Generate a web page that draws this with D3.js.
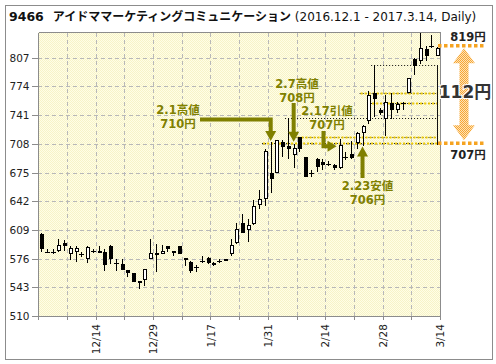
<!DOCTYPE html>
<html><head><meta charset="utf-8">
<script src="https://cdn.jsdelivr.net/npm/d3@7"></script>
<style>
body{margin:0;background:#fff}
svg{display:block}
text{font-family:"DejaVu Sans","Noto Sans CJK JP",sans-serif}
</style></head><body>
<svg id="c" width="496" height="364"></svg>
<script>
const dates=["12/1","12/2","12/5","12/6","12/7","12/8","12/9","12/12","12/13","12/14","12/15","12/16","12/19","12/20","12/21","12/22","12/26","12/27","12/28","12/29","12/30",
"1/4","1/5","1/6","1/10","1/11","1/12","1/13","1/16","1/17","1/18","1/19","1/20","1/23","1/24","1/25","1/26","1/27","1/30","1/31",
"2/1","2/2","2/3","2/6","2/7","2/8","2/9","2/10","2/13","2/14","2/15","2/16","2/17","2/20","2/21","2/22","2/23","2/24","2/27","2/28",
"3/1","3/2","3/3","3/6","3/7","3/8","3/9","3/10","3/13","3/14"];
const open =[604,584,584,585,594,581,584,581,576,585, 585,584,590,571,570,563,559,550,551,576, 582,581,590,585,590,577,572,566,573,577, 571,573,576,581,594,617,609,616,638,645, 675,675,710,705,695,716,693,674,690,687, 685,684,680,693,696,709,720,734,767,747, 737,755,747,755,766,806,803,817,820,809];
const high =[605,587,587,599,597,590,591,584,590,587, 590,587,592,575,575,563,560,550,564,599, 593,592,590,585,590,577,573,569,579,578, 572,575,576,599,617,627,622,643,655,702, 710,712,712,738,708,716,693,678,692,690, 688,685,714,699,711,722,730,769,799,749, 764,766,756,756,784,807,835,820,833,819];
const low  =[584,582,581,584,585,574,572,578,571,582, 582,562,570,562,563,555,549,541,545,576, 561,581,584,579,581,568,560,561,571,570, 567,571,573,579,593,605,595,615,633,636, 651,675,693,690,680,699,670,670,676,678, 682,678,679,689,691,702,706,731,739,741, 717,737,743,747,766,787,800,803,818,809];
const close=[587,584,584,592,591,588,588,581,589,585, 582,569,576,571,563,560,549,548,564,583, 580,585,587,582,581,575,562,566,573,571, 569,573,573,592,610,606,615,637,645,700, 668,712,704,702,703,702,670,674,681,684, 685,680,707,693,692,721,728,764,760,743, 756,747,754,755,784,797,818,809,820,818];
const yTicks=[510,543,576,609,642,675,708,741,774,807];
const titleCode="9466", titleName="アイドママーケティングコミュニケーション", titleRange=" (2016.12.1 - 2017.3.14, Daily)";
// annotations: day index, price, two label lines
const noteIdx=[40,44,52,56];
const notePrice=[710,708,707,706];
const noteLine1=["2.1高値","2.7高値","2.17引値","2.23安値"];
const noteLine2=["710円","708円","707円","706円"];
// level lines: price and first day index
const levelPrice=[799,766,755,738,716,709];
const levelFrom=[58,56,58,43,45,39];
const levelGold=[false,true,true,false,true,true];
const rangeHigh=819, rangeLow=707;

const svg=d3.select("#c");
const L=38.3,R=440,T=32.5,B=316;
const x=d3.scaleBand().domain(d3.range(dates.length)).range([L,R]);
const y=d3.scaleLinear().domain([510,836]).range([B,T]);
const cx=i=>x(i)+x.bandwidth()/2;

// outer frame
svg.append("rect").attr("x",5.5).attr("y",5.5).attr("width",487).attr("height",354).attr("fill","#fff").attr("stroke","#8c8c8c");

const defs=svg.append("defs");
const pat=defs.append("pattern").attr("id","bg").attr("width",2).attr("height",2).attr("patternUnits","userSpaceOnUse");
pat.append("rect").attr("width",2).attr("height",2).attr("fill","#fffee6");
pat.append("rect").attr("width",1).attr("height",1).attr("fill","#f7f3c8");
pat.append("rect").attr("x",1).attr("y",1).attr("width",1).attr("height",1).attr("fill","#f7f3c8");
const op=defs.append("pattern").attr("id","or").attr("width",2).attr("height",2).attr("patternUnits","userSpaceOnUse");
op.append("rect").attr("width",2).attr("height",2).attr("fill","#fde3b8");
op.append("rect").attr("width",1).attr("height",1).attr("fill","#f7a634");
op.append("rect").attr("x",1).attr("y",1).attr("width",1).attr("height",1).attr("fill","#f7a634");

// plot background
svg.append("rect").attr("x",L).attr("y",T).attr("width",R-L).attr("height",B-T).attr("fill","url(#bg)");

// grid
const g=svg.append("g").attr("stroke","#b8b8b8").attr("stroke-dasharray","4,3").attr("shape-rendering","crispEdges");
yTicks.filter(v=>v>510).forEach(v=>{const yy=Math.round(y(v))+0.5;g.append("line").attr("x1",L).attr("x2",R).attr("y1",yy).attr("y2",yy);});
const gridIdx=d3.range(dates.length).filter(i=>(i+1)%5===0 && i<dates.length-1);
gridIdx.forEach(i=>{const xx=Math.round(x(i)+x.bandwidth())+0.5;g.append("line").attr("x1",xx).attr("x2",xx).attr("y1",T).attr("y2",B);});

// frame of plot
svg.append("path").attr("d",`M${Math.round(L)+0.5},${T}V${B+0.5}H${R+0.5}V${T}H${Math.round(L)+0.5}`).attr("fill","none").attr("stroke","#8c8c8c").attr("shape-rendering","crispEdges");

// y axis
const ya=svg.append("g");
yTicks.forEach(v=>{
  const yy=Math.round(y(v))+0.5;
  ya.append("line").attr("x1",32).attr("x2",L).attr("y1",yy).attr("y2",yy).attr("stroke","#8c8c8c").attr("shape-rendering","crispEdges");
  ya.append("text").attr("x",29.5).attr("y",yy).attr("dy","0.35em").attr("text-anchor","end").attr("font-size",10.5).attr("fill","#222").text(v);
});
// x axis ticks
const xa=svg.append("g");
[-1,...gridIdx,dates.length-1].forEach(i=>{
  const xx=Math.round(i<0?L:x(i)+x.bandwidth())+0.5;
  xa.append("line").attr("x1",xx).attr("x2",xx).attr("y1",B).attr("y2",B+3.5).attr("stroke","#8c8c8c").attr("shape-rendering","crispEdges");
});
d3.range(dates.length).filter(i=>(i+1)%10===0).forEach(i=>{
  const xx=x(i)+x.bandwidth();
  xa.append("text").attr("transform",`translate(${xx+0.5},324) rotate(-90)`).attr("dy","0.35em").attr("text-anchor","end").attr("font-size",10.5).attr("fill","#222").text(dates[i]);
});

// level lines
const lv=svg.append("g");
levelPrice.forEach((p,k)=>{
  const yy=Math.round(y(p))+0.5, x0=x(levelFrom[k]);
  lv.append("line").attr("x1",x0).attr("x2",437.5).attr("y1",yy).attr("y2",yy).attr("stroke","#111").attr("stroke-dasharray","1,2");
  if(levelGold[k]) lv.append("line").attr("x1",x0+1).attr("x2",437.5).attr("y1",yy).attr("y2",yy).attr("stroke","#f0cc00").attr("stroke-width",2).attr("stroke-dasharray","2,2");
});
lv.append("line").attr("x1",437.5).attr("x2",437.5).attr("y1",Math.round(y(d3.max(levelPrice)))).attr("y2",Math.round(y(rangeLow))).attr("stroke","#111");

// candles
const cg=svg.append("g").attr("shape-rendering","crispEdges");
d3.range(dates.length).forEach(i=>{
  const px=Math.round(cx(i));
  cg.append("line").attr("x1",px+0.5).attr("x2",px+0.5).attr("y1",Math.round(y(high[i]))).attr("y2",Math.round(y(low[i]))).attr("stroke","#000");
  const yt=Math.round(y(Math.max(open[i],close[i]))), yb=Math.round(y(Math.min(open[i],close[i])));
  if(open[i]===close[i]){
    cg.append("line").attr("x1",px-2).attr("x2",px+3).attr("y1",yt+0.5).attr("y2",yt+0.5).attr("stroke","#000");
  } else if(close[i]>open[i]){
    cg.append("rect").attr("x",px-0.5).attr("y",yt+0.5).attr("width",3).attr("height",Math.max(1,yb-yt-1)).attr("fill","#fff").attr("stroke","#000");
  } else {
    cg.append("rect").attr("x",px-1).attr("y",yt).attr("width",4).attr("height",Math.max(2,yb-yt)).attr("fill","#000");
  }
});

// annotations (olive)
const olive="#808000";
const an=svg.append("g");
function head(tx,ty,dir){ // dir: down, up, right
  let p;
  if(dir==="down") p=[[tx-5.5,ty-10],[tx+5.5,ty-10],[tx,ty]];
  else if(dir==="up") p=[[tx-5.5,ty+10],[tx+5.5,ty+10],[tx,ty]];
  else p=[[tx-9,ty-5.5],[tx-9,ty+5.5],[tx,ty]];
  an.append("path").attr("d","M"+p.join("L")+"Z").attr("fill",olive);
}
function lbl(xc,yc,k){
  an.append("text").attr("x",xc).attr("y",yc).attr("dy","0.35em").attr("text-anchor","middle").attr("font-size",11.5).attr("font-weight","bold").attr("fill",olive).text(noteLine1[k]);
  an.append("text").attr("x",xc).attr("y",yc+14).attr("dy","0.35em").attr("text-anchor","middle").attr("font-size",11.5).attr("font-weight","bold").attr("fill",olive).text(noteLine2[k]);
}
// 0: 2.1 high
{const tx=cx(0+noteIdx[0]), ty=y(notePrice[0])-1;
 an.append("path").attr("d",`M200,119.5H${tx}V${ty-9}`).attr("fill","none").attr("stroke",olive).attr("stroke-width",4);
 head(tx,ty,"down"); lbl(178,110,0);}
// 1: 2.7 high
{const tx=cx(noteIdx[1]), ty=y(notePrice[1])-2;
 an.append("path").attr("d",`M${tx},103V${ty-9}`).attr("stroke",olive).attr("stroke-width",4);
 head(tx,ty,"down"); lbl(297,84,1);}
// 2: 2.17 close
{const tx=cx(noteIdx[2])-3, ty=y(notePrice[2])+1.5;
 an.append("path").attr("d",`M323.5,131V${ty}H${tx-8}`).attr("fill","none").attr("stroke",olive).attr("stroke-width",4);
 head(tx,ty,"right"); lbl(327,111,2);}
// 3: 2.23 low
{const tx=cx(noteIdx[3]), ty=y(notePrice[3])+1;
 an.append("path").attr("d",`M${tx},178V${ty+9}`).attr("stroke",olive).attr("stroke-width",4);
 head(tx,ty,"up"); lbl(367.5,186,3);}

// right range annotation
const ra=svg.append("g");
const yTop=y(rangeHigh), yBot=y(rangeLow);
ra.append("line").attr("x1",438).attr("x2",486).attr("y1",yTop-1.5).attr("y2",yTop-1.5).attr("stroke","#f5a321").attr("stroke-width",3.5).attr("stroke-dasharray","3.5,2.5");
ra.append("line").attr("x1",438).attr("x2",486).attr("y1",yBot-1.5).attr("y2",yBot-1.5).attr("stroke","#f5a321").attr("stroke-width",3.5).attr("stroke-dasharray","3.5,2.5");
{const c=464,t=yTop+1,b=yBot-4.5,hw=11,sw=4.5,hl=15;
 const pts=[[c,t],[c+hw,t+hl],[c+sw,t+hl],[c+sw,b-hl],[c+hw,b-hl],[c,b],[c-hw,b-hl],[c-sw,b-hl],[c-sw,t+hl],[c-hw,t+hl]];
 ra.append("path").attr("d","M"+pts.join("L")+"Z").attr("fill","url(#or)");}
ra.append("text").attr("x",468).attr("y",37).attr("dy","0.35em").attr("text-anchor","middle").attr("font-size",11.5).attr("font-weight","bold").attr("fill","#222").text(rangeHigh+"円");
ra.append("text").attr("x",468).attr("y",155).attr("dy","0.35em").attr("text-anchor","middle").attr("font-size",11.5).attr("font-weight","bold").attr("fill","#222").text(rangeLow+"円");
ra.append("text").attr("x",465).attr("y",92.5).attr("dy","0.35em").attr("text-anchor","middle").attr("font-size",17).attr("font-weight","bold").attr("fill","#333").attr("stroke","#fff").attr("stroke-width",2).attr("paint-order","stroke").text((rangeHigh-rangeLow)+"円");

// title
const tt=svg.append("text").attr("x",9).attr("y",21).attr("font-size",12).attr("fill","#111");
tt.append("tspan").attr("font-weight","bold").attr("font-size",12.5).text(titleCode);
tt.append("tspan").attr("dx",9).attr("font-weight","bold").attr("font-family","Noto Sans CJK JP").text(titleName);
tt.append("tspan").text(titleRange);
</script></body></html>
